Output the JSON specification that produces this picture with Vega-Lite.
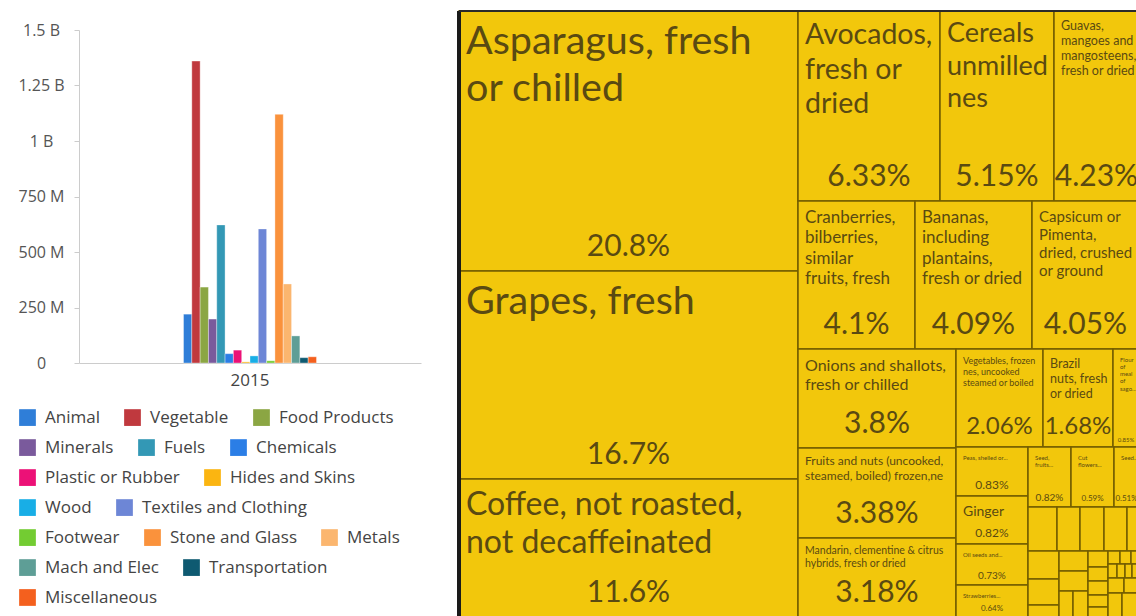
{
  "$schema": "https://vega.github.io/schema/vega-lite/v6.json",
  "background": "white",
  "padding": {"left": 17, "top": 9, "right": 0, "bottom": 0},
  "spacing": 36,
  "config": {
    "view": {"stroke": null},
    "font": "Open Sans",
    "legend": {"symbolType": "square", "symbolSize": 280, "symbolStrokeWidth": 0, "symbolOpacity": 1, "labelFontSize": 17, "labelColor": "#444444", "labelOffset": 9, "labelLimit": 300, "columnPadding": 24, "padding": 0}
  },
  "datasets": {
    "trade": [
      {"year": "2015", "category": "Animal", "value": 220000000},
      {"year": "2015", "category": "Vegetable", "value": 1360000000},
      {"year": "2015", "category": "Food Products", "value": 342000000},
      {"year": "2015", "category": "Minerals", "value": 198000000},
      {"year": "2015", "category": "Fuels", "value": 622000000},
      {"year": "2015", "category": "Chemicals", "value": 42000000},
      {"year": "2015", "category": "Plastic or Rubber", "value": 58000000},
      {"year": "2015", "category": "Hides and Skins", "value": 5000000},
      {"year": "2015", "category": "Wood", "value": 32000000},
      {"year": "2015", "category": "Textiles and Clothing", "value": 604000000},
      {"year": "2015", "category": "Footwear", "value": 10000000},
      {"year": "2015", "category": "Stone and Glass", "value": 1120000000},
      {"year": "2015", "category": "Metals", "value": 356000000},
      {"year": "2015", "category": "Mach and Elec", "value": 122000000},
      {"year": "2015", "category": "Transportation", "value": 24000000},
      {"year": "2015", "category": "Miscellaneous", "value": 28000000}
    ],
    "tree": [
      {"name": "Asparagus, fresh\nor chilled", "share": 20.8, "x0": 0, "x1": 339, "y0": 0, "y1": 260},
      {"name": "Grapes, fresh", "share": 16.7, "x0": 0, "x1": 339, "y0": 260, "y1": 468},
      {"name": "Coffee, not roasted,\nnot decaffeinated", "share": 11.6, "x0": 0, "x1": 339, "y0": 468, "y1": 606},
      {"name": "Avocados,\nfresh or\ndried", "share": 6.33, "x0": 339, "x1": 481, "y0": 0, "y1": 190},
      {"name": "Cereals\nunmilled\nnes", "share": 5.15, "x0": 481, "x1": 595, "y0": 0, "y1": 190},
      {"name": "Guavas,\nmangoes and\nmangosteens,\nfresh or dried", "share": 4.23, "x0": 595, "x1": 680, "y0": 0, "y1": 190},
      {"name": "Cranberries,\nbilberries,\nsimilar\nfruits, fresh", "share": 4.1, "x0": 339, "x1": 456, "y0": 190, "y1": 338},
      {"name": "Bananas,\nincluding\nplantains,\nfresh or dried", "share": 4.09, "x0": 456, "x1": 573, "y0": 190, "y1": 338},
      {"name": "Capsicum or\nPimenta,\ndried, crushed\nor ground", "share": 4.05, "x0": 573, "x1": 680, "y0": 190, "y1": 338},
      {"name": "Onions and shallots,\nfresh or chilled", "share": 3.8, "x0": 339, "x1": 497, "y0": 338, "y1": 437},
      {"name": "Fruits and nuts (uncooked,\nsteamed, boiled) frozen,ne", "share": 3.38, "x0": 339, "x1": 497, "y0": 437, "y1": 527},
      {"name": "Mandarin, clementine & citrus\nhybrids, fresh or dried", "share": 3.18, "x0": 339, "x1": 497, "y0": 527, "y1": 606},
      {"name": "Vegetables, frozen\nnes, uncooked\nsteamed or boiled", "share": 2.06, "x0": 497, "x1": 584, "y0": 338, "y1": 436},
      {"name": "Brazil\nnuts, fresh\nor dried", "share": 1.68, "x0": 584, "x1": 654, "y0": 338, "y1": 436},
      {"name": "Flour\nof\nmeal\nof\nsago...", "share": 0.85, "x0": 654, "x1": 680, "y0": 338, "y1": 436},
      {"name": "Peas, shelled or...", "share": 0.83, "x0": 497, "x1": 569, "y0": 436, "y1": 485},
      {"name": "Ginger", "share": 0.824, "x0": 497, "x1": 569, "y0": 485, "y1": 533},
      {"name": "Oil seeds and...", "share": 0.73, "x0": 497, "x1": 569, "y0": 533, "y1": 574},
      {"name": "Strawberries...", "share": 0.64, "x0": 497, "x1": 569, "y0": 574, "y1": 606},
      {"name": "Seed,\nfruits...", "share": 0.818, "x0": 569, "x1": 612, "y0": 436, "y1": 496},
      {"name": "Cut\nflowers...", "share": 0.59, "x0": 612, "x1": 655, "y0": 436, "y1": 496},
      {"name": "Seed...", "share": 0.51, "x0": 655, "x1": 680, "y0": 436, "y1": 496},
      {"name": "", "share": 0.45, "x0": 569, "x1": 598, "y0": 496, "y1": 540},
      {"name": "", "share": 0.37, "x0": 598, "x1": 621, "y0": 496, "y1": 540},
      {"name": "", "share": 0.37, "x0": 621, "x1": 645, "y0": 496, "y1": 540},
      {"name": "", "share": 0.36, "x0": 645, "x1": 668, "y0": 496, "y1": 540},
      {"name": "", "share": 0.19, "x0": 668, "x1": 680, "y0": 496, "y1": 540},
      {"name": "", "share": 0.31, "x0": 569, "x1": 600, "y0": 540, "y1": 568},
      {"name": "", "share": 0.29, "x0": 569, "x1": 600, "y0": 568, "y1": 594},
      {"name": "", "share": 0.13, "x0": 569, "x1": 600, "y0": 594, "y1": 606},
      {"name": "", "share": 0.2, "x0": 600, "x1": 629, "y0": 540, "y1": 560},
      {"name": "", "share": 0.2, "x0": 600, "x1": 629, "y0": 560, "y1": 580},
      {"name": "", "share": 0.18, "x0": 600, "x1": 614, "y0": 580, "y1": 606},
      {"name": "", "share": 0.17, "x0": 614, "x1": 629, "y0": 580, "y1": 606},
      {"name": "", "share": 0.14, "x0": 629, "x1": 649, "y0": 540, "y1": 556},
      {"name": "", "share": 0.12, "x0": 629, "x1": 649, "y0": 556, "y1": 570},
      {"name": "", "share": 0.12, "x0": 629, "x1": 649, "y0": 570, "y1": 584},
      {"name": "", "share": 0.1, "x0": 629, "x1": 649, "y0": 584, "y1": 596},
      {"name": "", "share": 0.09, "x0": 629, "x1": 649, "y0": 596, "y1": 606},
      {"name": "", "share": 0.08, "x0": 649, "x1": 661, "y0": 540, "y1": 553},
      {"name": "", "share": 0.08, "x0": 661, "x1": 672, "y0": 540, "y1": 553},
      {"name": "", "share": 0.05, "x0": 672, "x1": 680, "y0": 540, "y1": 553},
      {"name": "", "share": 0.06, "x0": 649, "x1": 658, "y0": 553, "y1": 567},
      {"name": "", "share": 0.06, "x0": 658, "x1": 666, "y0": 553, "y1": 567},
      {"name": "", "share": 0.05, "x0": 666, "x1": 673, "y0": 553, "y1": 567},
      {"name": "", "share": 0.05, "x0": 673, "x1": 680, "y0": 553, "y1": 567},
      {"name": "", "share": 0.09, "x0": 649, "x1": 665, "y0": 567, "y1": 582},
      {"name": "", "share": 0.08, "x0": 665, "x1": 680, "y0": 567, "y1": 582},
      {"name": "", "share": 0.1, "x0": 649, "x1": 663, "y0": 582, "y1": 606},
      {"name": "", "share": 0.1, "x0": 663, "x1": 680, "y0": 582, "y1": 606}
    ]
  },
  "hconcat": [
    {
      "width": 342,
      "height": 333,
      "data": {"name": "trade"},
      "encoding": {
        "x": {
          "field": "year", "type": "nominal", "title": null,
          "scale": {"paddingOuter": 0.786, "paddingInner": 0},
          "axis": {"labelAngle": 0, "ticks": false, "domainColor": "#cccccc", "labelFontSize": 17, "labelColor": "#444444", "labelPadding": 9}
        },
        "xOffset": {
          "field": "category", "type": "nominal",
          "scale": {"domain": ["Animal", "Vegetable", "Food Products", "Minerals", "Fuels", "Chemicals", "Plastic or Rubber", "Hides and Skins", "Wood", "Textiles and Clothing", "Footwear", "Stone and Glass", "Metals", "Mach and Elec", "Transportation", "Miscellaneous"], "paddingInner": 0, "paddingOuter": 0}
        },
        "y": {
          "field": "value", "type": "quantitative", "title": null,
          "scale": {"domain": [0, 1500000000], "nice": false},
          "axis": {
            "values": [0, 250000000, 500000000, 750000000, 1000000000, 1250000000, 1500000000],
            "labelExpr": "datum.value >= 1000000000 ? format(datum.value / 1000000000, '~g') + ' B' : (datum.value == 0 ? '0' : format(datum.value / 1000000, '~g') + ' M')",
            "grid": false, "domainColor": "#cccccc", "tickColor": "#cccccc", "tickSize": 5,
            "labelAlign": "center", "labelPadding": 33, "labelFontSize": 16, "labelColor": "#555555"
          }
        }
      },
      "layer": [
        {
          "transform": [{"filter": {"field": "category", "oneOf": ["Animal", "Vegetable", "Food Products"]}}],
          "mark": {"type": "bar", "stroke": "white", "strokeOpacity": 0.35, "strokeWidth": 1},
          "encoding": {"color": {"field": "category", "type": "nominal", "scale": {"domain": ["Animal", "Vegetable", "Food Products"], "range": ["#2f7ed8", "#c0393e", "#8ba643"]}, "legend": {"title": null, "orient": "none", "direction": "horizontal", "legendX": -60, "legendY": 379}}}
        },
        {
          "transform": [{"filter": {"field": "category", "oneOf": ["Minerals", "Fuels", "Chemicals"]}}],
          "mark": {"type": "bar", "stroke": "white", "strokeOpacity": 0.35, "strokeWidth": 1},
          "encoding": {"color": {"field": "category", "type": "nominal", "scale": {"domain": ["Minerals", "Fuels", "Chemicals"], "range": ["#7a5a9c", "#3398b5", "#2b7ee6"]}, "legend": {"title": null, "orient": "none", "direction": "horizontal", "legendX": -60, "legendY": 409}}}
        },
        {
          "transform": [{"filter": {"field": "category", "oneOf": ["Plastic or Rubber", "Hides and Skins"]}}],
          "mark": {"type": "bar", "stroke": "white", "strokeOpacity": 0.35, "strokeWidth": 1},
          "encoding": {"color": {"field": "category", "type": "nominal", "scale": {"domain": ["Plastic or Rubber", "Hides and Skins"], "range": ["#ec1177", "#fbb511"]}, "legend": {"title": null, "orient": "none", "direction": "horizontal", "legendX": -60, "legendY": 439}}}
        },
        {
          "transform": [{"filter": {"field": "category", "oneOf": ["Wood", "Textiles and Clothing"]}}],
          "mark": {"type": "bar", "stroke": "white", "strokeOpacity": 0.35, "strokeWidth": 1},
          "encoding": {"color": {"field": "category", "type": "nominal", "scale": {"domain": ["Wood", "Textiles and Clothing"], "range": ["#18aee6", "#6d86d6"]}, "legend": {"title": null, "orient": "none", "direction": "horizontal", "legendX": -60, "legendY": 469}}}
        },
        {
          "transform": [{"filter": {"field": "category", "oneOf": ["Footwear", "Stone and Glass", "Metals"]}}],
          "mark": {"type": "bar", "stroke": "white", "strokeOpacity": 0.35, "strokeWidth": 1},
          "encoding": {"color": {"field": "category", "type": "nominal", "scale": {"domain": ["Footwear", "Stone and Glass", "Metals"], "range": ["#73cc32", "#fa923c", "#fbb66f"]}, "legend": {"title": null, "orient": "none", "direction": "horizontal", "legendX": -60, "legendY": 499}}}
        },
        {
          "transform": [{"filter": {"field": "category", "oneOf": ["Mach and Elec", "Transportation"]}}],
          "mark": {"type": "bar", "stroke": "white", "strokeOpacity": 0.35, "strokeWidth": 1},
          "encoding": {"color": {"field": "category", "type": "nominal", "scale": {"domain": ["Mach and Elec", "Transportation"], "range": ["#5e9e96", "#0e5a71"]}, "legend": {"title": null, "orient": "none", "direction": "horizontal", "legendX": -60, "legendY": 529}}}
        },
        {
          "transform": [{"filter": {"field": "category", "oneOf": ["Miscellaneous"]}}],
          "mark": {"type": "bar", "stroke": "white", "strokeOpacity": 0.35, "strokeWidth": 1},
          "encoding": {"color": {"field": "category", "type": "nominal", "scale": {"domain": ["Miscellaneous"], "range": ["#f4601e"]}, "legend": {"title": null, "orient": "none", "direction": "horizontal", "legendX": -60, "legendY": 559}}}
        }
      ],
      "resolve": {"scale": {"color": "independent"}, "legend": {"color": "independent"}}
    },
    {
      "width": 680,
      "height": 587,
      "data": {"name": "tree"},
      "layer": [
        {
          "mark": {"type": "rect", "fill": "#f2c70c", "stroke": "#735d00", "strokeWidth": 1.5},
          "encoding": {
            "x": {"field": "x0", "type": "quantitative", "scale": {"domain": [0, 680], "nice": false, "zero": false}, "axis": null},
            "x2": {"field": "x1"},
            "y": {"field": "y0", "type": "quantitative", "scale": {"domain": [19, 606], "nice": false, "zero": false, "reverse": true}, "axis": null},
            "y2": {"field": "y1"}
          }
        },
        {
          "transform": [{"filter": "datum.share >= 0.5"}],
          "mark": {
            "type": "text", "align": "left", "baseline": "top", "dx": 7, "font": "Lato", "color": "#5a4a12", "lineBreak": "\n",
            "fontSize": {"expr": "datum.share >= 15 ? 39.5 : datum.share >= 10 ? 32 : datum.share >= 5.5 ? 28.5 : datum.share >= 5 ? 27 : datum.share >= 4.2 ? 12.5 : datum.share >= 4.07 ? 17 : datum.share >= 4 ? 15 : datum.share >= 3.5 ? 16 : datum.share >= 3.3 ? 12 : datum.share >= 3 ? 10.5 : datum.share >= 2 ? 9 : datum.share >= 1 ? 12.5 : (datum.share > 0.82 && datum.share < 0.83) ? 14 : 6"},
            "lineHeight": {"expr": "1.2 * (datum.share >= 15 ? 39.5 : datum.share >= 10 ? 32 : datum.share >= 5.5 ? 28.5 : datum.share >= 5 ? 27 : datum.share >= 4.2 ? 12.5 : datum.share >= 4.07 ? 17 : datum.share >= 4 ? 15 : datum.share >= 3.5 ? 16 : datum.share >= 3.3 ? 12 : datum.share >= 3 ? 10.5 : datum.share >= 2 ? 9 : datum.share >= 1 ? 12.5 : (datum.share > 0.82 && datum.share < 0.83) ? 14 : 6)"},
            "dy": {"expr": "7 + 0.12 * (datum.share >= 15 ? 39.5 : datum.share >= 10 ? 32 : datum.share >= 5.5 ? 28.5 : datum.share >= 5 ? 27 : datum.share >= 4.2 ? 12.5 : datum.share >= 4.07 ? 17 : datum.share >= 4 ? 15 : datum.share >= 3.5 ? 16 : datum.share >= 3.3 ? 12 : datum.share >= 3 ? 10.5 : datum.share >= 2 ? 9 : datum.share >= 1 ? 12.5 : (datum.share > 0.82 && datum.share < 0.83) ? 14 : 6)"}
          },
          "encoding": {
            "x": {"field": "x0", "type": "quantitative"},
            "y": {"field": "y0", "type": "quantitative"},
            "text": {"field": "name"}
          }
        },
        {
          "transform": [
            {"filter": "datum.share >= 0.5"},
            {"calculate": "(datum.x0 + datum.x1) / 2", "as": "xm"},
            {"calculate": "format(datum.share, '.2~f') + '%'", "as": "pct"}
          ],
          "mark": {
            "type": "text", "align": "center", "baseline": "alphabetic", "font": "Lato", "color": "#5a4a12",
            "fontSize": {"expr": "datum.share >= 3 ? 30 : datum.share >= 1.5 ? 24 : datum.share >= 0.84 ? 6 : datum.share >= 0.821 ? 12 : datum.share >= 0.7 ? 10 : 8"},
            "dy": {"expr": "-(2 + 0.45 * (datum.share >= 3 ? 30 : datum.share >= 1.5 ? 24 : datum.share >= 0.84 ? 6 : datum.share >= 0.821 ? 12 : datum.share >= 0.7 ? 10 : 8))"}
          },
          "encoding": {
            "x": {"field": "xm", "type": "quantitative"},
            "y": {"field": "y1", "type": "quantitative"},
            "text": {"field": "pct"}
          }
        },
        {
          "mark": {"type": "rule", "color": "#1a1a1a", "strokeWidth": 3},
          "encoding": {"x": {"datum": 0}, "y": {"datum": 0}, "y2": {"datum": 606}}
        },
        {
          "mark": {"type": "rule", "color": "#2a2a2a", "strokeWidth": 2},
          "encoding": {"y": {"datum": 0}}
        }
      ]
    }
  ],
  "resolve": {"legend": {"color": "independent"}, "scale": {"color": "independent", "x": "independent", "y": "independent"}}
}
